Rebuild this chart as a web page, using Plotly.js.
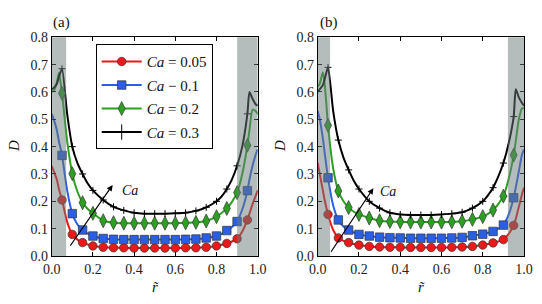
<!DOCTYPE html>
<html><head><meta charset="utf-8">
<script src="https://cdn.plot.ly/plotly-3.0.1.min.js"></script>
<style>html,body{margin:0;padding:0;background:#fff}#g{width:542px;height:304px}</style>
</head><body><div id="g"></div>
<script>
// ---- data ----
const rLine = [0, 0.01, 0.025, 0.035, 0.05, 0.075, 0.1, 0.125, 0.15, 0.175, 0.2, 0.25, 0.3, 0.35, 0.4, 0.45, 0.5, 0.55, 0.6, 0.65, 0.7, 0.75, 0.8, 0.825, 0.85, 0.875, 0.9, 0.925, 0.95, 0.96, 0.975, 0.99, 1.0];
const rMark = [0.05, 0.1, 0.15, 0.2, 0.25, 0.3, 0.35, 0.4, 0.45, 0.5, 0.55, 0.6, 0.65, 0.7, 0.75, 0.8, 0.85, 0.9, 0.95];
const caLabels = ["<i>Ca</i> = 0.05", "<i>Ca</i> \u2212 0.1", "<i>Ca</i> = 0.2", "<i>Ca</i> = 0.3"];

// panel (a)
const aRedLine   = [0.33, 0.31, 0.28, 0.245, 0.205, 0.125, 0.079, 0.06, 0.049, 0.042, 0.037, 0.032, 0.03, 0.03, 0.029, 0.029, 0.029, 0.029, 0.029, 0.03, 0.03, 0.032, 0.037, 0.041, 0.046, 0.053, 0.063, 0.09, 0.132, 0.155, 0.19, 0.22, 0.24];
const aBlueLine  = [0.52, 0.50, 0.46, 0.42, 0.368, 0.24, 0.155, 0.115, 0.095, 0.082, 0.073, 0.064, 0.061, 0.06, 0.06, 0.06, 0.06, 0.06, 0.06, 0.061, 0.062, 0.066, 0.073, 0.081, 0.093, 0.106, 0.126, 0.17, 0.239, 0.28, 0.33, 0.37, 0.39];
const aGreenLine = [0.60, 0.605, 0.635, 0.67, 0.595, 0.42, 0.301, 0.235, 0.195, 0.172, 0.156, 0.129, 0.122, 0.12, 0.12, 0.12, 0.12, 0.12, 0.12, 0.121, 0.123, 0.128, 0.144, 0.157, 0.174, 0.198, 0.232, 0.30, 0.405, 0.46, 0.535, 0.53, 0.52];
const aBlackLine = [0.61, 0.615, 0.63, 0.655, 0.685, 0.52, 0.40, 0.34, 0.30, 0.265, 0.24, 0.205, 0.18, 0.167, 0.158, 0.155, 0.155, 0.155, 0.156, 0.158, 0.165, 0.178, 0.20, 0.218, 0.245, 0.28, 0.33, 0.40, 0.52, 0.60, 0.575, 0.555, 0.55];
const aRedMark   = [0.205, 0.079, 0.049, 0.037, 0.032, 0.03, 0.03, 0.029, 0.029, 0.029, 0.029, 0.029, 0.03, 0.03, 0.032, 0.037, 0.046, 0.063, 0.132];
const aBlueMark  = [0.368, 0.155, 0.095, 0.073, 0.064, 0.061, 0.06, 0.06, 0.06, 0.06, 0.06, 0.06, 0.061, 0.062, 0.066, 0.073, 0.093, 0.126, 0.239];
const aGreenMark = [0.595, 0.301, 0.195, 0.156, 0.129, 0.122, 0.12, 0.12, 0.12, 0.12, 0.12, 0.12, 0.121, 0.123, 0.128, 0.144, 0.174, 0.232, 0.405];
const aBlackMark = [0.685, 0.40, 0.30, 0.24, 0.205, 0.18, 0.167, 0.158, 0.155, 0.155, 0.155, 0.156, 0.158, 0.165, 0.178, 0.20, 0.245, 0.33, 0.52];

// panel (b)
const bRedLine   = [0.34, 0.30, 0.24, 0.20, 0.152, 0.095, 0.066, 0.055, 0.049, 0.044, 0.04, 0.035, 0.033, 0.032, 0.032, 0.031, 0.031, 0.031, 0.031, 0.032, 0.033, 0.035, 0.04, 0.044, 0.048, 0.053, 0.06, 0.08, 0.112, 0.135, 0.18, 0.225, 0.25];
const bBlueLine  = [0.53, 0.50, 0.43, 0.37, 0.286, 0.185, 0.132, 0.108, 0.095, 0.086, 0.079, 0.073, 0.069, 0.067, 0.066, 0.065, 0.065, 0.065, 0.065, 0.066, 0.068, 0.074, 0.08, 0.085, 0.09, 0.10, 0.113, 0.15, 0.213, 0.25, 0.31, 0.37, 0.39];
const bGreenLine = [0.62, 0.63, 0.672, 0.62, 0.478, 0.32, 0.238, 0.20, 0.177, 0.162, 0.152, 0.139, 0.129, 0.126, 0.125, 0.124, 0.124, 0.124, 0.124, 0.125, 0.127, 0.134, 0.144, 0.154, 0.168, 0.19, 0.219, 0.28, 0.369, 0.42, 0.50, 0.54, 0.54];
const bBlackLine = [0.60, 0.61, 0.625, 0.65, 0.69, 0.53, 0.424, 0.36, 0.315, 0.275, 0.245, 0.20, 0.175, 0.158, 0.152, 0.15, 0.15, 0.15, 0.152, 0.155, 0.16, 0.175, 0.20, 0.222, 0.25, 0.29, 0.34, 0.41, 0.51, 0.61, 0.58, 0.56, 0.55];
const bRedMark   = [0.152, 0.066, 0.049, 0.04, 0.035, 0.033, 0.032, 0.032, 0.031, 0.031, 0.031, 0.031, 0.032, 0.033, 0.035, 0.04, 0.048, 0.06, 0.112];
const bBlueMark  = [0.286, 0.132, 0.095, 0.079, 0.073, 0.069, 0.067, 0.066, 0.065, 0.065, 0.065, 0.065, 0.066, 0.068, 0.074, 0.08, 0.09, 0.113, 0.213];
const bGreenMark = [0.478, 0.238, 0.177, 0.152, 0.139, 0.129, 0.126, 0.125, 0.124, 0.124, 0.124, 0.124, 0.125, 0.127, 0.134, 0.144, 0.168, 0.219, 0.369];
const bBlackMark = [0.69, 0.424, 0.315, 0.245, 0.20, 0.175, 0.158, 0.152, 0.15, 0.15, 0.15, 0.152, 0.155, 0.16, 0.175, 0.20, 0.25, 0.34, 0.51];

const xTicks = [0, 0.2, 0.4, 0.6, 0.8, 1.0];
const yTicks = [0, 0.1, 0.2, 0.3, 0.4, 0.5, 0.6, 0.7, 0.8];

// ---- styles ----
const FONT = "Liberation Serif, DejaVu Serif, serif";
const styles = [
  {color: "rgb(235,25,25)", symbol: "circle", size: 8.5},
  {color: "rgb(40,95,230)", symbol: "square", size: 8.5},
  {color: "rgb(45,160,35)", symbol: "diamond-tall", size: 10},
  {color: "rgb(0,0,0)", symbol: "cross-thin", size: 5}
];
function markerOf(i) {
  const s = styles[i];
  return i === 3
    ? {symbol: s.symbol, size: s.size, color: s.color, line: {color: s.color, width: 1}}
    : {symbol: s.symbol, size: s.size, color: s.color, line: {color: "#333", width: 0.7}};
}

const traces = [];
function addPanel(lines, marks, xa, ya) {
  lines.forEach((yv, i) => {
    traces.push({x: rLine, y: yv, xaxis: xa, yaxis: ya, mode: "lines", showlegend: false,
      line: {color: styles[i].color, width: 2, shape: "spline", smoothing: 0.6}, hoverinfo: "skip"});
  });
  marks.forEach((yv, i) => {
    traces.push({x: rMark, y: yv, xaxis: xa, yaxis: ya, mode: "markers", showlegend: false,
      marker: markerOf(i), hoverinfo: "skip"});
  });
}
addPanel([aRedLine, aBlueLine, aGreenLine, aBlackLine], [aRedMark, aBlueMark, aGreenMark, aBlackMark], "x", "y");
addPanel([bRedLine, bBlueLine, bGreenLine, bBlackLine], [bRedMark, bBlueMark, bGreenMark, bBlackMark], "x2", "y2");
// legend-only entries
caLabels.forEach((lab, i) => {
  const mk = markerOf(i);
  if (i === 3) { mk.size = 11; }
  traces.push({x: [null], y: [null], xaxis: "x", yaxis: "y", mode: "lines+markers", name: lab,
    legendgroup: "g" + i, line: {color: styles[i].color, width: 2}, marker: mk});
});

function xax(dom, anchor) {
  return {domain: dom, anchor: anchor, range: [0, 1], tickvals: xTicks, tickformat: ".1f",
    ticks: "inside", ticklen: 4, tickcolor: "#000", showline: true, linecolor: "#000", linewidth: 1,
    mirror: "allticks", showgrid: false, zeroline: false, fixedrange: true,
    tickfont: {family: FONT, size: 14, color: "#222"}};
}
function yax(dom, anchor) {
  return {domain: dom, anchor: anchor, range: [0, 0.8], tickvals: yTicks, tickformat: ".1f",
    ticks: "inside", ticklen: 4, tickcolor: "#000", showline: true, linecolor: "#000", linewidth: 1,
    mirror: "allticks", showgrid: false, zeroline: false, fixedrange: true,
    tickfont: {family: FONT, size: 14, color: "#222"}};
}
const yDom = [1 - 256 / 304, 1 - 37.3 / 304];
const band = {type: "rect", yref: "paper", y0: yDom[0], y1: yDom[1], layer: "above",
  fillcolor: "rgb(105,122,122)", opacity: 0.5, line: {width: 0}};
const shapes = [
  Object.assign({}, band, {xref: "x", x0: 0, x1: 0.07}),
  Object.assign({}, band, {xref: "x", x0: 0.9, x1: 1}),
  Object.assign({}, band, {xref: "x2", x0: 0, x1: 0.06}),
  Object.assign({}, band, {xref: "x2", x0: 0.922, x1: 1})
];
const annFont = {family: FONT, size: 15, color: "#111"};
function lab(x, y, text, extra) {
  return Object.assign({xref: "paper", yref: "paper", x: x / 542, y: 1 - y / 304, text: text,
    showarrow: false, xanchor: "center", yanchor: "middle", font: annFont}, extra || {});
}
const annotations = [
  lab(61, 22, "(a)"),
  lab(329, 22, "(b)"),
  lab(14, 146, "<i>D</i>", {textangle: -90}),
  lab(280, 146, "<i>D</i>", {textangle: -90}),
  lab(155, 287, "<i>r\u0303</i>"),
  lab(421, 287, "<i>r\u0303</i>"),
  // arrows
  {xref: "x", yref: "y", axref: "x", ayref: "y", x: 0.296, y: 0.26, ax: 0.085, ay: 0.032, text: "", showarrow: true,
    arrowhead: 2, arrowsize: 1, arrowwidth: 1.2, arrowcolor: "#000"},
  {xref: "x", yref: "y", x: 0.33, y: 0.24, text: "<i>Ca</i>", showarrow: false, xanchor: "left", yanchor: "middle", font: {family: FONT, size: 14, color: "#111"}},
  {xref: "x2", yref: "y2", axref: "x2", ayref: "y2", x: 0.27, y: 0.248, ax: 0.06, ay: 0.01, text: "", showarrow: true,
    arrowhead: 2, arrowsize: 1, arrowwidth: 1.2, arrowcolor: "#000"},
  {xref: "x2", yref: "y2", x: 0.29, y: 0.236, text: "<i>Ca</i>", showarrow: false, xanchor: "left", yanchor: "middle", font: {family: FONT, size: 14, color: "#111"}}
];

const layout = {
  width: 542, height: 304, margin: {l: 0, r: 0, t: 0, b: 0},
  paper_bgcolor: "#fff", plot_bgcolor: "#fff",
  xaxis: xax([51.7 / 542, 257.7 / 542], "y"),
  yaxis: yax(yDom, "x"),
  xaxis2: xax([317.7 / 542, 524 / 542], "y2"),
  yaxis2: yax(yDom, "x2"),
  shapes: shapes, annotations: annotations,
  showlegend: true,
  legend: {x: 95.7 / 542, y: 1 - 44.3 / 304, xanchor: "left", yanchor: "top", bgcolor: "#fff",
    bordercolor: "#000", borderwidth: 1, font: {family: FONT, size: 15, color: "#111"},
    tracegroupgap: 1, itemwidth: 40}
};
Plotly.newPlot("g", traces, layout, {staticPlot: true, displayModeBar: false});
</script></body></html>
